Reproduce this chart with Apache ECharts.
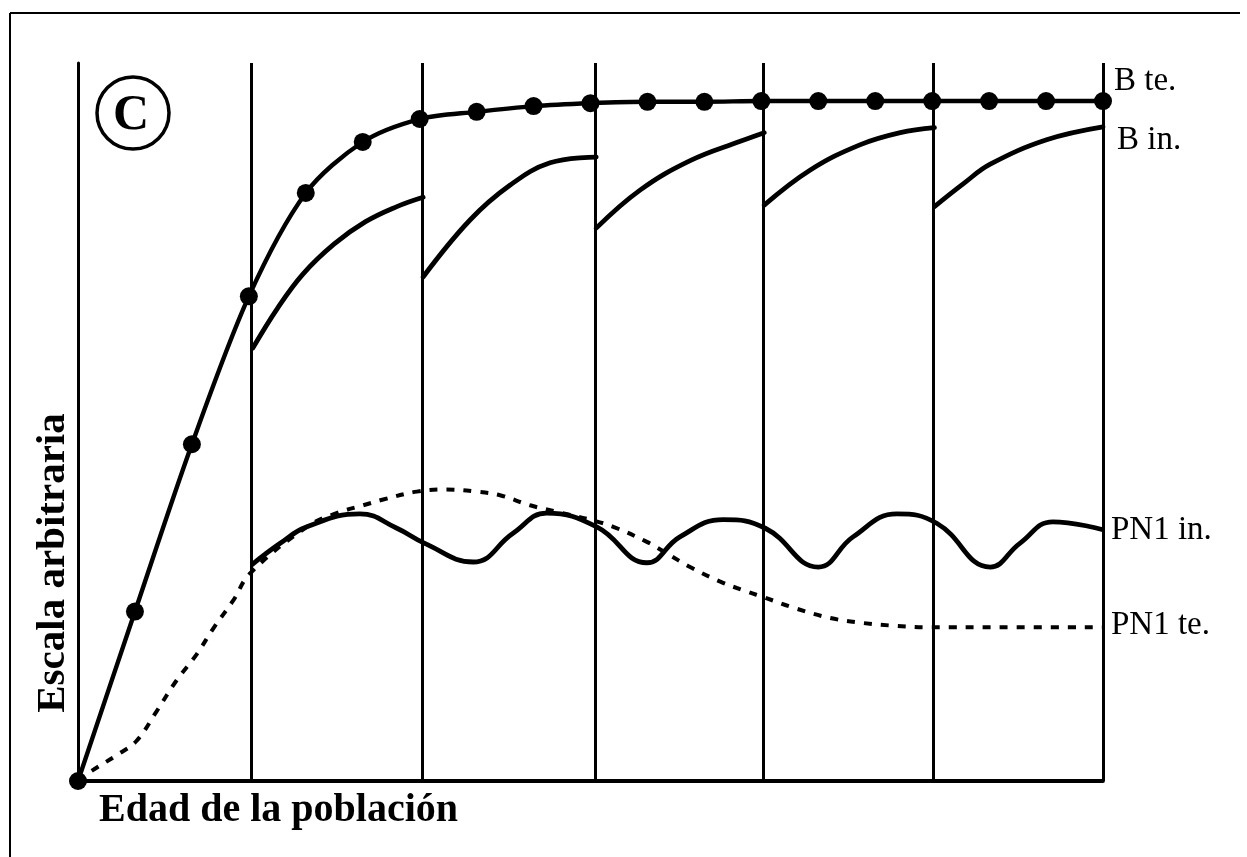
<!DOCTYPE html>
<html>
<head>
<meta charset="utf-8">
<script src="https://cdn.jsdelivr.net/npm/echarts@6/dist/echarts.min.js"></script>
<style>
html,body{margin:0;padding:0;background:#fff;}
#chart{width:1247px;height:857px;}
</style>
</head>
<body>
<div id="chart"></div>
<script>
// x: age in thirds of a period (0..18); y: arbitrary scale (0..100)
var periodBounds = [3.05, 6.05, 9.08, 12.04, 15.02, 18];

var bTeX = [0,1,2,3,4,5,6,7,8,9,10,11,12,13,14,15,16,17,18];
var bTeY = [0, 23.6, 46.9, 67.5, 81.9, 89.0, 92.2, 93.2, 94.0, 94.4, 94.6, 94.6, 94.7, 94.7, 94.7, 94.7, 94.7, 94.7, 94.7];

var bIn1 = [[3.07,60.3],[3.5,65.8],[3.95,70.6],[4.5,74.8],[5.05,77.9],[5.6,80.0],[6.06,81.3]];
var bIn2 = [[6.06,70.2],[6.88,78.1],[7.59,83.0],[8.29,86.1],[9.10,86.9]];
var bIn3 = [[9.10,77.0],[9.87,82.3],[10.75,86.4],[11.63,89.1],[12.05,90.3]];
var bIn4 = [[12.05,80.2],[12.86,85.1],[13.73,88.6],[14.44,90.3],[15.04,91.0]];
var bIn5 = [[15.04,80.0],[15.55,83.2],[16.02,85.9],[17.01,89.3],[18.0,91.1]];

var pn1InX = [3.05, 3.55, 4.02, 4.95, 5.6, 6.09, 6.94, 7.64, 8.23, 9.11, 9.99, 10.57, 11.33, 12.07, 13.0, 13.61, 14.38, 15.08, 16.02, 16.54, 17.12, 18.0];
var pn1InY = [30.1, 33.1, 35.4, 37.2, 35.2, 33.1, 30.5, 34.5, 37.3, 35.4, 30.4, 34.0, 36.4, 35.2, 29.8, 34.0, 37.2, 35.9, 29.8, 33.1, 36.1, 35.0];

var pn1TeX = [0, 0.24, 0.74, 1.03, 1.38, 1.73, 2.08, 2.38, 2.73, 3.02, 4.02, 4.54, 5.01, 5.36, 5.95, 6.47, 7.0, 7.41, 7.94, 8.41, 8.99, 9.40, 9.99, 10.34, 10.75, 11.27, 11.74, 12.04, 12.62, 13.21, 13.79, 14.38, 14.96, 16.13, 18.0];
var pn1TeY = [0, 1.4, 3.9, 5.6, 9.7, 14.0, 17.6, 21.3, 25.2, 28.9, 35.4, 37.3, 38.4, 39.2, 40.3, 40.6, 40.3, 39.8, 38.4, 37.5, 36.4, 35.4, 33.3, 31.7, 29.8, 27.8, 26.4, 25.6, 24.0, 22.7, 22.0, 21.6, 21.4, 21.4, 21.4];

var seriesLabels = ['B te.', 'B in.', 'PN1 in.', 'PN1 te.'];
var xTitle = 'Edad de la población';
var yTitle = 'Escala arbitraria';
var panelLetter = 'C';

function zip(xs, ys){ return xs.map(function(x,i){ return [x, ys[i]]; }); }

var chart = echarts.init(document.getElementById('chart'), null, {renderer:'canvas'});
var serif = '"Liberation Serif", "DejaVu Serif", serif';
var black = '#000';

var bInSegs = [bIn1, bIn2, bIn3, bIn4, bIn5];
var series = [];

series.push({
  type:'line', name:'bounds', data:[], silent:true,
  markLine:{
    symbol:['none','none'], silent:true, animation:false,
    label:{show:false},
    lineStyle:{color:black, width:3, type:'solid'},
    data: periodBounds.map(function(b){ return {xAxis:b}; })
  }
});

series.push({
  type:'line', name: seriesLabels[0], data: zip(bTeX, bTeY), smooth:0.3,
  symbol:'circle', symbolSize:18, clip:false,
  itemStyle:{color:black}, lineStyle:{color:black, width:4.4}
});

bInSegs.forEach(function(seg){
  series.push({
    type:'line', name: seriesLabels[1], data: seg, smooth:0.4, showSymbol:false, clip:false,
    lineStyle:{color:black, width:4.8, cap:'round'}
  });
});

series.push({
  type:'line', name: seriesLabels[2], data: zip(pn1InX, pn1InY), smooth:0.45, showSymbol:false, clip:false,
  lineStyle:{color:black, width:4.8}
});

series.push({
  type:'line', name: seriesLabels[3], data: zip(pn1TeX, pn1TeY), smooth:0.4, showSymbol:false, clip:false,
  lineStyle:{color:black, width:4, type:[8,9], cap:'butt'}
});

var option = {
  backgroundColor:'#fff',
  animation:false,
  grid:{left:78, right:144, top:63, bottom:76},
  xAxis:{type:'value', min:0, max:18,
    axisLine:{show:true, onZero:false, lineStyle:{color:black, width:3.8}},
    axisTick:{show:false}, axisLabel:{show:false}, splitLine:{show:false}},
  yAxis:{type:'value', min:0, max:100,
    axisLine:{show:true, onZero:false, lineStyle:{color:black, width:3}},
    axisTick:{show:false}, axisLabel:{show:false}, splitLine:{show:false}},
  series: series,
  graphic:[
    {type:'line', shape:{x1:10,y1:13,x2:1240,y2:13}, style:{stroke:black, lineWidth:2}},
    {type:'line', shape:{x1:10,y1:13,x2:10,y2:857}, style:{stroke:black, lineWidth:2}},
    {type:'circle', shape:{cx:133, cy:113, r:36}, style:{fill:'none', stroke:black, lineWidth:3.5}},
    {type:'text', x:131, y:116, style:{text:panelLetter, font:'bold 50px '+serif, fill:black, align:'center', verticalAlign:'middle'}},
    {type:'text', x:1114, y:81, style:{text:seriesLabels[0], font:'33px '+serif, fill:black, align:'left', verticalAlign:'middle'}},
    {type:'text', x:1117, y:140, style:{text:seriesLabels[1], font:'33px '+serif, fill:black, align:'left', verticalAlign:'middle'}},
    {type:'text', x:1111, y:530, style:{text:seriesLabels[2], font:'33px '+serif, fill:black, align:'left', verticalAlign:'middle'}},
    {type:'text', x:1111, y:625, style:{text:seriesLabels[3], font:'33px '+serif, fill:black, align:'left', verticalAlign:'middle'}},
    {type:'text', x:99, y:811, style:{text:xTitle, font:'bold 40px '+serif, fill:black, align:'left', verticalAlign:'middle'}},
    {type:'text', x:53, y:563, rotation:Math.PI/2, style:{text:yTitle, font:'bold 41px '+serif, fill:black, align:'center', verticalAlign:'middle'}}
  ]
};
chart.setOption(option);
</script>
</body>
</html>
